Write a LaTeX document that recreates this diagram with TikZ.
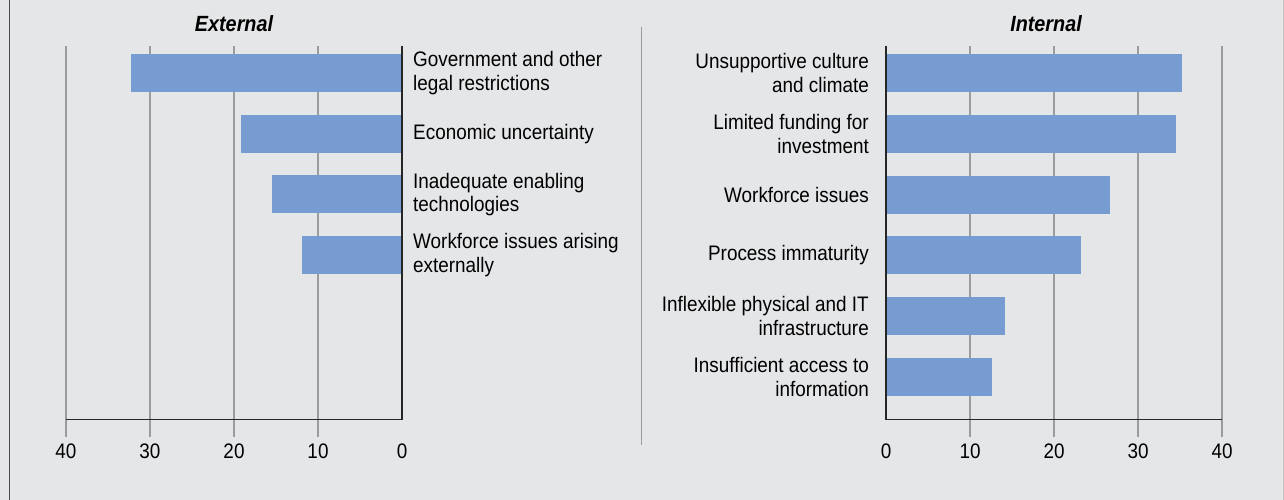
\documentclass[tikz,border=0pt]{standalone}
\usepackage{fontspec}
\setmainfont{Liberation Sans}[FakeStretch=0.9]
\definecolor{bggrey}{HTML}{E5E6E8}
\definecolor{barblue}{HTML}{779CD1}
\definecolor{gridgrey}{HTML}{9C9C9C}

\begin{document}
\begin{tikzpicture}[x=1pt, y=-1pt,
    bar/.style={fill=barblue},
    gridline/.style={draw=gridgrey, line width=1.2pt},
    axisline/.style={draw=black!85, line width=1.5pt},
    lbl/.style={inner sep=0pt, font=\fontsize{21}{23.5}\selectfont},
    ttl/.style={inner sep=0pt, font=\fontsize{22}{24}\selectfont\bfseries\itshape}]
    \fill[bggrey] (0,0) rectangle (1284,500);
    \useasboundingbox (0,0) rectangle (1284,500);
    \draw[black!70, line width=1.2pt] (9.5,0) -- (9.5,500);
    \draw[gridgrey!60, line width=1pt] (1283.5,0) -- (1283.5,500);
    \draw[gridgrey, line width=1.3pt] (641.7,27) -- (641.7,445);

    \node (ext) [ttl] at (234,24) {External};
    \node (int) [ttl] at (1046,24) {Internal};

    % external panel
    \foreach \v in {10,20,30,40}
        \draw[gridline] (402-8.4*\v,46) -- (402-8.4*\v,437);
    \foreach \v/\t [count=\i] in {32.3/{Government and other\\legal restrictions},
                                  19.2/{Economic uncertainty},
                                  15.5/{Inadequate enabling\\technologies},
                                  11.9/{Workforce issues arising\\externally}} {
        \pgfmathsetmacro\yc{73+60.7*(\i-1)}
        \fill[bar] (402-8.4*\v,\yc-19) rectangle (402,\yc+19);
        \node (e\i) [lbl, anchor=west, align=left] at (413,\yc) {\t};
    }
    \draw[axisline] (402,46) -- (402,419.5) -- (66,419.5);
    \foreach \v in {0,10,20,30,40}
        \node (ex\v) [lbl] at (402-8.4*\v,451) {\v};

    % internal panel
    \foreach \v in {10,20,30,40}
        \draw[gridline] (886+8.4*\v,46) -- (886+8.4*\v,437);
    \foreach \v/\t [count=\i] in {35.2/{Unsupportive culture\\and climate},
                                  34.5/{Limited funding for\\investment},
                                  26.7/{Workforce issues},
                                  23.2/{Process immaturity},
                                  14.2/{Inflexible physical and IT\\infrastructure},
                                  12.6/{Insufficient access to\\information}} {
        \pgfmathsetmacro\yc{73+60.8*(\i-1)}
        \fill[bar] (886,\yc-19) rectangle (886+8.4*\v,\yc+19);
        \node (n\i) [lbl, anchor=east, align=right] at (869,\yc) {\t};
    }
    \draw[axisline] (886,46) -- (886,419.5) -- (1222,419.5);
    \foreach \v in {0,10,20,30,40}
        \node (in\v) [lbl] at (886+8.4*\v,451) {\v};
\end{tikzpicture}
\end{document}
